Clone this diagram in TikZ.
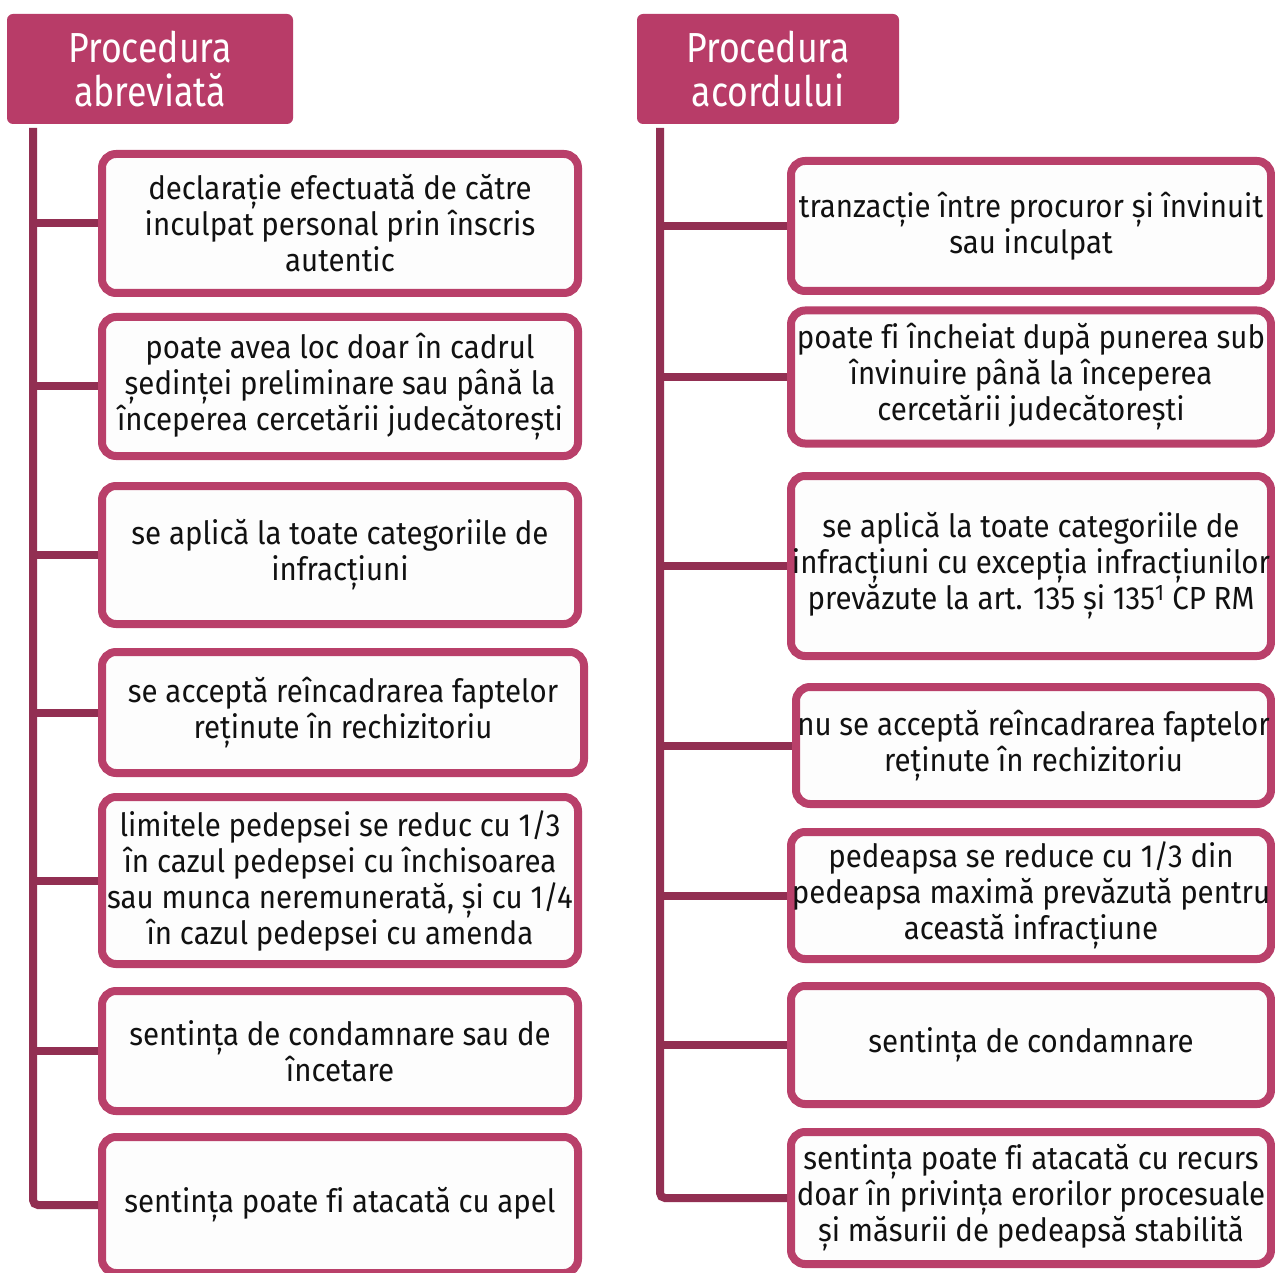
\documentclass[tikz,border=0pt]{standalone}
\usepackage{fontspec}
\setmainfont{Fira Sans}[FakeStretch=0.92,Ligatures=NoCommon]
\newfontfamily\headfont{Fira Sans}[FakeStretch=0.85,Ligatures=NoCommon]
\definecolor{headpink}{HTML}{B83C68}
\definecolor{boxpink}{HTML}{B9406A}
\definecolor{trunkc}{HTML}{922F52}
\definecolor{boxfill}{HTML}{FDFDFD}
\definecolor{txt}{HTML}{111111}
\begin{document}
\begin{tikzpicture}[x=1pt,y=-1pt,
  head/.style={fill=headpink, rounded corners=6pt, text=white, font=\headfont\fontsize{42}{44}\selectfont, align=center, inner sep=0pt},
  item/.style={draw=boxpink, line width=8pt, fill=boxfill, rounded corners=14pt, align=center, font=\fontsize{32}{36}\selectfont, text=txt, inner sep=0pt},
  conn/.style={draw=trunkc, line width=8pt},
]
\useasboundingbox[fill=white] (0,0) rectangle (1275,1273);

% headers
\node[head, minimum width=286pt, minimum height=110pt] (hl) at (150,69) {Procedura\\abreviată};
\node[head, minimum width=262pt, minimum height=110pt] (hr) at (768,69) {Procedura\\acordului};

% left column
\node[item, minimum width=476pt, minimum height=139pt] (l1) at (340,223.5) {declarație efectuată de către\\inculpat personal prin înscris\\autentic};
\node[item, minimum width=476pt, minimum height=139pt] (l2) at (340,386.5) {poate avea loc doar în cadrul\\ședinței preliminare sau până la\\începerea cercetării judecătorești};
\node[item, minimum width=476pt, minimum height=138pt] (l3) at (340,555) {se aplică la toate categoriile de\\infracțiuni};
\node[item, minimum width=482pt, minimum height=121pt] (l4) at (343,712.5) {se acceptă reîncadrarea faptelor\\reținute în rechizitoriu};
\node[item, minimum width=476pt, minimum height=167pt] (l5) at (340,880.5) {limitele pedepsei se reduc cu 1/3\\în cazul pedepsei cu închisoarea\\sau munca neremunerată, și cu 1/4\\în cazul pedepsei cu amenda};
\node[item, minimum width=476pt, minimum height=120pt] (l6) at (340,1051) {sentința de condamnare sau de\\încetare};
\node[item, minimum width=476pt, minimum height=136pt] (l7) at (340,1205) {sentința poate fi atacată cu apel};

% right column
\node[item, minimum width=480pt, minimum height=130pt] (r1) at (1031,226) {tranzacție între procuror și învinuit\\sau inculpat};
\node[item, minimum width=480pt, minimum height=133pt] (r2) at (1031,377) {poate fi încheiat după punerea sub\\învinuire până la începerea\\cercetării judecătorești};
\node[item, minimum width=480pt, minimum height=180pt] (r3) at (1031,566) {se aplică la toate categoriile de\\infracțiuni cu excepția infracțiunilor\\prevăzute la art. 135 și 135\textsuperscript{1} CP RM};
\node[item, minimum width=475pt, minimum height=117pt] (r4) at (1033.5,745.5) {nu se acceptă reîncadrarea faptelor\\reținute în rechizitoriu};
\node[item, minimum width=480pt, minimum height=127pt] (r5) at (1031,895.5) {pedeapsa se reduce cu 1/3 din\\pedeapsa maximă prevăzută pentru\\această infracțiune};
\node[item, minimum width=480pt, minimum height=118pt] (r6) at (1031,1045) {sentința de condamnare};
\node[item, minimum width=480pt, minimum height=132pt] (r7) at (1031,1198) {sentința poate fi atacată cu recurs\\doar în privința erorilor procesuale\\și măsurii de pedeapsă stabilită};

% trunks and connectors
\coordinate (tl) at (33,128);
\coordinate (tr) at (660,128);
\draw[conn, rounded corners=5pt] (tl) |- (l7.west);
\draw[conn, rounded corners=5pt] (tr) |- (r7.west);
\foreach \i in {1,...,6} {
  \draw[conn] (tl |- l\i.west) -- (l\i.west);
  \draw[conn] (tr |- r\i.west) -- (r\i.west);
}
\end{tikzpicture}
\end{document}
